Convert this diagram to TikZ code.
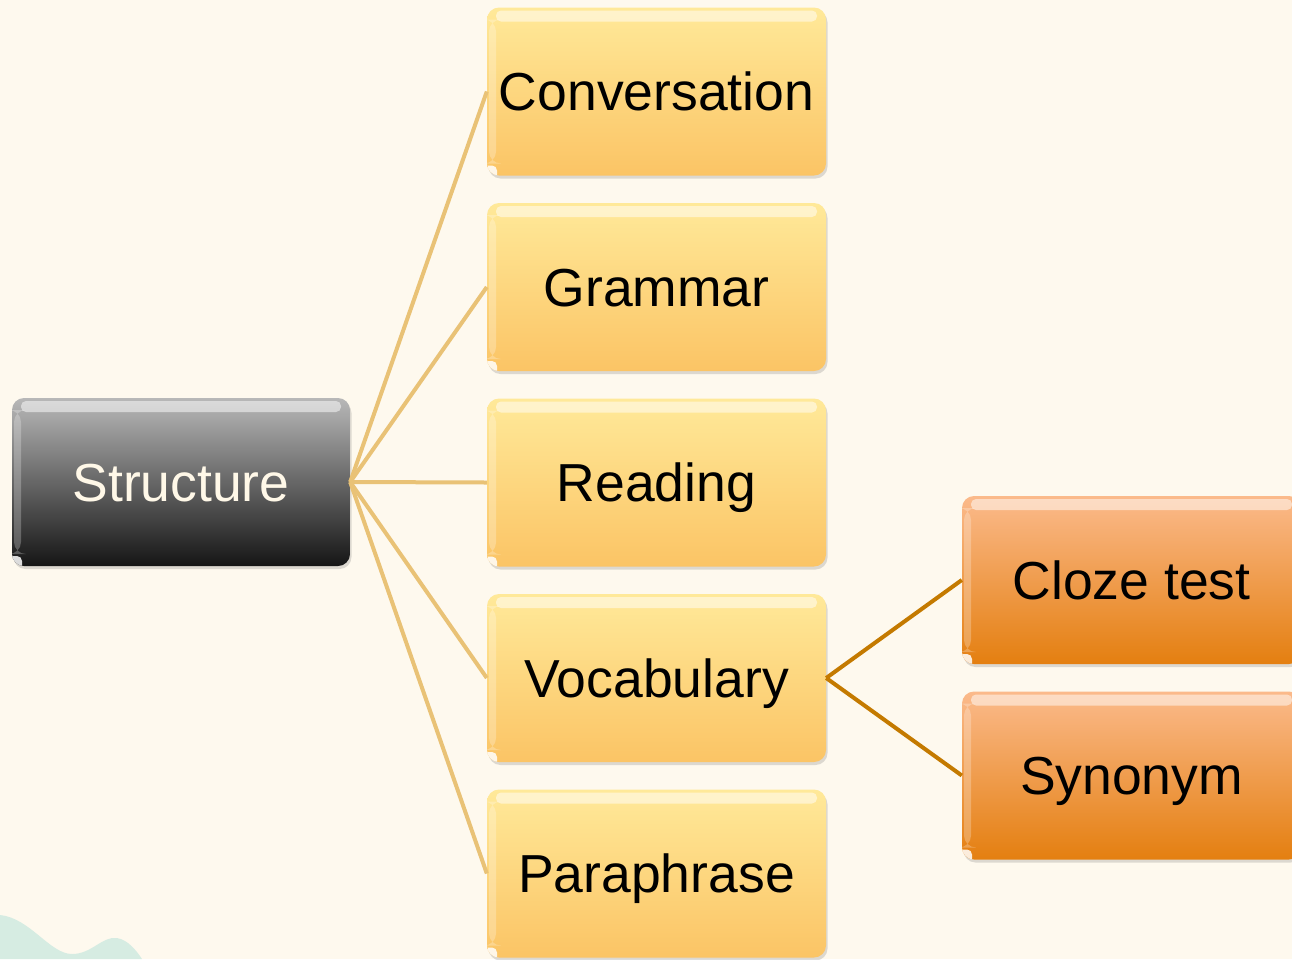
\documentclass[tikz,border=0pt]{standalone}
\usepackage{fontspec}
\setmainfont{Liberation Sans}
\usetikzlibrary{shadows}
\definecolor{bgcream}{HTML}{FEF9EE}
\definecolor{wavecol}{HTML}{D6ECE2}
\definecolor{ytop}{HTML}{FFE999}
\definecolor{ybot}{HTML}{FBC465}
\definecolor{otop}{HTML}{FBBA8B}
\definecolor{obot}{HTML}{E47F10}
\definecolor{gtop}{HTML}{B8B8B8}
\definecolor{gbot}{HTML}{151515}
\definecolor{tanline}{HTML}{E9C276}
\definecolor{brownline}{HTML}{C47A00}
\definecolor{structtext}{HTML}{FFF8E8}
\tikzset{
  x=1pt, y=-1pt,
  box/.style={rectangle, rounded corners=12pt, minimum width=339pt, minimum height=168pt,
    inner sep=0pt, font=\fontsize{53.5}{60}\selectfont, text height=40pt, text depth=2pt,
    drop shadow={shadow xshift=1.5pt, shadow yshift=-3pt, opacity=0.22, fill=black!60},
    path picture={
      \fill[white, opacity=0.5, rounded corners=5pt]
        ([xshift=9pt,yshift=-3pt]path picture bounding box.north west) rectangle
        ([xshift=-9pt,yshift=-14pt]path picture bounding box.north east);
      \fill[white, opacity=0.25]
        ([xshift=2pt,yshift=-12pt]path picture bounding box.north west) rectangle
        ([xshift=9pt,yshift=12pt]path picture bounding box.south west);
      \fill[white, opacity=0.85, rounded corners=5pt]
        ([xshift=-4pt,yshift=-4pt]path picture bounding box.south west) rectangle
        ([xshift=10pt,yshift=10pt]path picture bounding box.south west);
    }},
  ybox/.style={box, top color=ytop, bottom color=ybot, text=black},
  obox/.style={box, top color=otop, bottom color=obot, text=black},
  gbox/.style={box, top color=gtop, bottom color=gbot, text=structtext, minimum width=338pt},
  tanconn/.style={draw=tanline, line width=4pt},
  brownconn/.style={draw=brownline, line width=4pt},
}
\begin{document}
\begin{tikzpicture}
\useasboundingbox (0,0) rectangle (1292,959);
\fill[bgcream] (0,0) rectangle (1292,959);
\fill[wavecol] (0,915) .. controls (30,918) and (50,954) .. (72,954)
  .. controls (92,954) and (102,936) .. (117,938)
  .. controls (128,940) and (136,950) .. (142,959) -- (0,959) -- cycle;

\node[gbox] (structure) at (181,482) {Structure};
\node[ybox] (conv) at (656.5,91.5) {Conversation};
\node[ybox] (gram) at (656.5,287) {Grammar};
\node[ybox] (read) at (656.5,482.5) {Reading};
\node[ybox] (vocab) at (656.5,678) {Vocabulary};
\node[ybox] (para) at (656.5,873.5) {Paraphrase};
\node[obox] (cloze) at (1131.5,580) {Cloze test};
\node[obox] (syn) at (1131.5,775.5) {Synonym};

\foreach \t in {conv,gram,read,vocab,para}
  \draw[tanconn] (structure.east) -- (\t.west);
\draw[brownconn] (vocab.east) -- (cloze.west);
\draw[brownconn] (vocab.east) -- (syn.west);
\end{tikzpicture}
\end{document}
